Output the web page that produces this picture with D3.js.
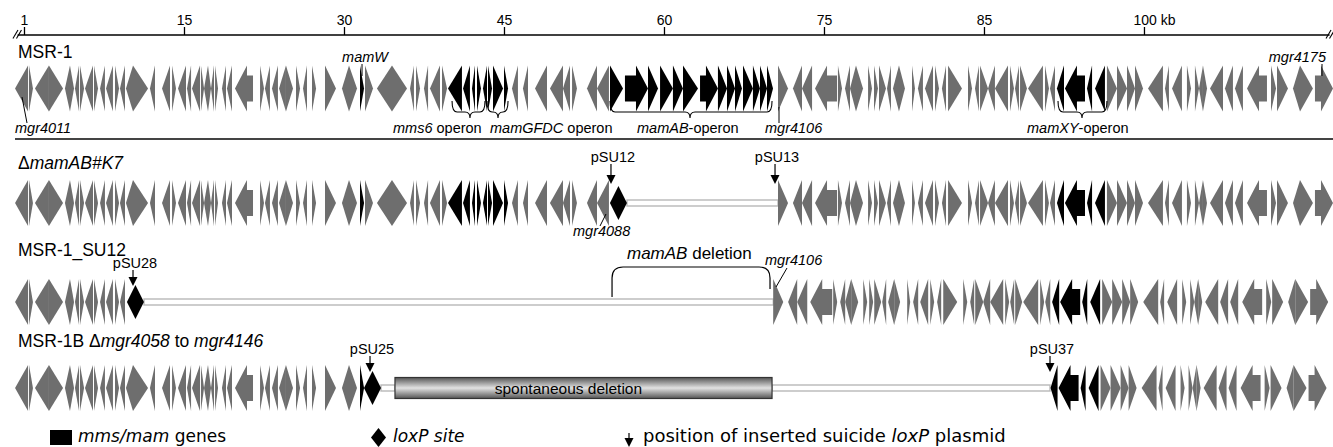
<!DOCTYPE html>
<html><head><meta charset="utf-8">
<script src="https://cdn.jsdelivr.net/npm/d3@7"></script>
<style>body{margin:0;background:#fff}svg{display:block}</style>
</head><body>
<svg id="c" width="1333" height="447"></svg>
<script>
// ---------------- DATA (kb) ----------------
const tickValues = [0, 15, 30, 45, 60, 75, 90, 105];
const tickLabels = ["1", "15", "30", "45", "60", "75", "85", "100 kb"];
// [start kb, end kb, strand, isMamGene]
const genes = [
 [-0.84,0.38,-1,0],[0.47,0.84,1,0],[1.03,2.34,-1,0],[2.34,3.66,1,0],
 [3.84,4.31,-1,0],[4.31,4.69,1,0],[4.78,5.16,-1,0],[5.25,5.63,1,0],
 [5.72,6.47,-1,0],[6.56,6.94,1,0],[7.13,7.59,-1,0],[7.69,8.34,-1,0],
 [8.53,8.91,1,0],[9.00,9.47,-1,0],[9.56,10.22,-1,0],[10.22,11.63,1,0],
 [11.81,12.28,-1,0],
 [12.94,13.69,-1,0],[13.88,14.25,1,0],[14.44,15.19,-1,0],[15.28,15.66,-1,0],
 [15.75,16.50,-1,0],[16.59,16.88,1,0],[16.88,17.25,-1,0],[17.25,17.53,1,0],
 [17.53,17.81,-1,0],[17.91,18.19,1,0],[18.56,18.94,-1,0],[19.03,19.50,-1,0],
 [19.78,21.47,-1,0],
 [22.13,22.50,1,0],[22.59,23.06,-1,0],[23.25,23.81,-1,0],[23.91,24.56,-1,0],
 [24.56,25.22,1,0],[25.50,25.88,1,0],[26.16,26.53,-1,0],[27.00,27.38,1,0],
 [28.22,29.25,1,0],[29.81,30.47,-1,0],[30.47,31.22,1,0],[31.50,31.88,1,1],
 [31.97,32.72,1,0],[33.09,34.50,-1,0],[34.50,35.91,1,0],[36.19,36.56,-1,0],
 [36.75,37.13,1,0],[37.50,37.88,-1,0],[38.06,39.00,-1,0],[39.19,39.66,1,0],
 [39.75,41.06,-1,1],[41.16,41.81,-1,1],[42.00,42.28,-1,1],[42.47,42.84,1,1],
 [43.03,43.41,-1,1],[43.50,43.88,1,1],[43.97,44.91,1,1],[45.00,45.38,1,1],
 [45.75,46.31,-1,0],[46.78,47.25,-1,0],[47.91,49.03,-1,0],[49.31,50.53,-1,0],
 [50.53,51.19,-1,0],[51.38,51.84,1,0],[52.78,53.72,-1,0],[53.72,54.84,-1,0],
 [54.94,56.16,1,1],[56.34,58.50,1,1],[58.50,59.44,1,1],[59.63,60.84,1,1],
 [60.84,61.78,1,1],[61.78,63.19,1,1],[63.38,65.06,1,1],[65.06,65.91,1,1],
 [65.91,66.66,1,1],[66.66,67.31,1,1],[67.41,68.34,1,1],[68.34,69.00,1,1],
 [69.00,69.66,1,1],[69.66,70.22,1,1],
 [70.69,71.63,1,0],[72.09,72.94,-1,0],[72.94,73.88,-1,0],[74.16,76.22,-1,0],
 [76.31,76.69,1,0],[76.97,77.44,-1,0],[77.44,78.00,-1,0],[78.00,78.66,1,0],
 [79.13,79.50,1,0],[79.69,80.06,1,0],[80.16,80.81,1,0],
 [80.91,81.28,-1,0],[81.47,82.03,-1,0],[82.03,82.59,1,0],[83.25,83.53,1,0],
 [83.81,84.28,-1,0],[84.47,85.22,-1,0],[85.41,85.78,1,0],[86.06,86.44,-1,0],
 [86.63,87.94,1,0],
 [88.50,88.88,1,0],[89.16,89.53,-1,0],[89.63,90.38,1,0],[90.38,91.03,-1,0],
 [91.03,92.25,-1,0],[92.44,92.81,1,0],[92.91,93.28,-1,0],[93.38,94.03,1,0],
 [94.13,95.53,-1,0],[95.72,96.09,1,0],[96.19,96.66,-1,0],
 [96.84,97.50,-1,1],[97.59,99.47,-1,1],[99.66,100.13,-1,1],[100.41,101.34,-1,1],
 [101.53,102.47,1,0],[102.47,103.41,1,0],[103.41,104.16,1,0],[104.16,104.91,1,0],
 [105.38,106.78,-1,0],[106.97,107.34,-1,0],[107.63,108.56,-1,0],[109.03,109.41,1,0],
 [109.78,110.16,1,0],[110.16,110.53,-1,0],[110.53,110.91,1,0],[111.19,112.41,-1,0],
 [112.59,113.34,-1,0],[113.53,114.28,-1,0],[114.66,116.53,-1,0],[116.91,117.38,1,0],
 [117.47,118.50,1,0],[118.97,119.63,-1,0],[119.63,120.84,1,0],[121.03,122.72,1,0]
];
// strains (rows): label parts [text, italic]
const rowLabels = [
 [["MSR-1",0]],
 [["\u0394",0],["mamAB#K7",1]],
 [["MSR-1_SU12",0]],
 [["MSR-1B \u0394",0],["mgr4058",1],[" to ",0],["mgr4146",1]]
];
// retained gene segments per strain: [from kb, to kb, shift kb]
const rowSegments = [
 [[-2,123,0]],
 [[-2,54.9,0],[70.6,123,0]],
 [[-2,9.5,0],[70.6,123,-0.45]],
 [[-2,31.9,0],[96.8,123,-0.6]]
];
const loxPSites = [[1,55.73],[2,10.45],[3,32.67]];            // [row, kb]
const plasmids = [["pSU12",1,55.03],["pSU13",1,70.41],["pSU28",2,10.22],["pSU25",3,32.44],["pSU37",3,96.19]];
const deletedSpans = [[1,56.53,70.69],[2,11.25,70.25],[3,33.47,34.78],[3,70.13,96.19]];
const spontaneousDeletion = [3,34.78,70.13];
// operon braces: [italic name, suffix, from kb, to kb, tip kb]
const operons = [["mms6"," operon",40.13,43.22,41.81],["mamGFDC"," operon",43.41,45.38,44.44],
                 ["mamAB","-operon",54.94,70.13,62.44],["mamXY","-operon",96.94,101.53,99.19]];

// ---------------- LAYOUT ----------------
const FONT = "'Liberation Sans', Arial, Helvetica, sans-serif";
const LFONT = "'DejaVu Sans', Verdana, sans-serif";
const GRAY = "#6e6e6e";
const rowY = [88.5, 203, 302, 388];
const labelY = [58, 169, 256, 347];
const plasmidTextY = {1:162, 2:268, 3:354};
const plasmidTip = {1:184, 2:286, 3:372};
const operonTextX = [393, 490, 637, 1027];

const svg = d3.select('#c');
const x = d3.scaleLinear().domain([0, 122.44]).range([24, 1330]);

const defs = svg.append('defs');
const gr = defs.append('linearGradient').attr('id','cyl').attr('x1',0).attr('x2',0).attr('y1',0).attr('y2',1);
gr.append('stop').attr('offset','0%').attr('stop-color','#555');
gr.append('stop').attr('offset','50%').attr('stop-color','#e2e2e2');
gr.append('stop').attr('offset','100%').attr('stop-color','#555');

// axis
const axisY = 35;
const gA = svg.append('g').attr('transform',`translate(0,${axisY})`)
  .call(d3.axisTop(x).tickValues(tickValues).tickFormat((d,i)=>tickLabels[i]).tickSize(8).tickPadding(2).tickSizeOuter(0));
gA.select('.domain').remove();
gA.attr('font-family',FONT).attr('font-size',14);
gA.selectAll('text').attr('fill','#000');
gA.selectAll('.tick line').attr('stroke','#000').attr('stroke-width',1.3);
gA.selectAll('.tick').filter((d,i)=>i===tickValues.length-1).select('text').attr('text-anchor','start').attr('dx',-11);
svg.append('line').attr('x1',x(-0.6)).attr('x2',x(122.4)).attr('y1',axisY).attr('y2',axisY).attr('stroke','#000').attr('stroke-width',1.5);
[x(-0.8), x(122.3)].forEach(bx=>{
  [0,3.5].forEach(o=>svg.append('line').attr('x1',bx-2.5+o).attr('y1',axisY+3.5).attr('x2',bx+2.5+o).attr('y2',axisY-5).attr('stroke','#000').attr('stroke-width',1.1));
});

function genePath(x0,x1,dir,cy){
  const w=x1-x0, Hh=23, Bh=13; let pts;
  if (w>16.5){ const hl=12;
    pts = dir>0 ? [[x0,cy-Bh],[x1-hl,cy-Bh],[x1-hl,cy-Hh],[x1,cy],[x1-hl,cy+Hh],[x1-hl,cy+Bh],[x0,cy+Bh]]
                : [[x1,cy-Bh],[x0+hl,cy-Bh],[x0+hl,cy-Hh],[x0,cy],[x0+hl,cy+Hh],[x0+hl,cy+Bh],[x1,cy+Bh]];
  } else {
    pts = dir>0 ? [[x0,cy-Hh],[x1,cy],[x0,cy+Hh]] : [[x1,cy-Hh],[x0,cy],[x1,cy+Hh]];
  }
  return 'M'+pts.map(p=>p.join(',')).join('L')+'Z';
}
function addText(g, parts, tx, ty, size, family, anchor){
  const t = g.append('text').attr('x',tx).attr('y',ty).attr('font-size',size).attr('font-family',family||FONT).attr('fill','#000');
  if (anchor) t.attr('text-anchor',anchor);
  parts.forEach(([s,it])=>t.append('tspan').text(s).attr('font-style',it?'italic':'normal'));
  return t;
}

deletedSpans.forEach(([r,a,b])=>{
  svg.append('rect').attr('x',x(a)).attr('y',rowY[r]-3).attr('width',x(b)-x(a)).attr('height',6)
    .attr('fill','#fff').attr('stroke','#b8b8b8').attr('stroke-width',1.4);
});
{
  const [r,a,b] = spontaneousDeletion;
  svg.append('rect').attr('x',x(a)).attr('y',rowY[r]-10.5).attr('width',x(b)-x(a)).attr('height',21)
    .attr('fill','url(#cyl)').attr('stroke','#333').attr('stroke-width',1.2);
  addText(svg,[["spontaneous deletion",0]], x(a)+(x(b)-x(a))*0.46, rowY[r]+5.5, 15.5, FONT,'middle');
}

rowSegments.forEach((segs,r)=>{
  const g = svg.append('g');
  segs.forEach(([from,to,shift])=>{
    const sel = genes.filter(d=>d[0]>=from && d[1]<=to);
    g.selectAll(null).data(sel).enter().append('path')
      .attr('d',d=>genePath(x(d[0]+shift),x(d[1]+shift),d[2],rowY[r]))
      .attr('fill',d=>d[3]?'#000':GRAY);
  });
  addText(svg, rowLabels[r], 18, labelY[r], 17.5, FONT);
});

function diamond(cx,cy,hw,hh){return `M${cx},${cy-hh}L${cx+hw},${cy}L${cx},${cy+hh}L${cx-hw},${cy}Z`;}
loxPSites.forEach(([r,k])=>svg.append('path').attr('d',diamond(x(k),rowY[r],8.5,17)).attr('fill','#000'));

function downArrow(px,y0,y1){
  svg.append('line').attr('x1',px).attr('x2',px).attr('y1',y0).attr('y2',y1-7).attr('stroke','#000').attr('stroke-width',1.2);
  svg.append('path').attr('d',`M${px-4.5},${y1-9}L${px+4.5},${y1-9}L${px},${y1}Z`).attr('fill','#000');
}
plasmids.forEach(([name,r,k])=>{
  addText(svg,[[name,0]],x(k)+2,plasmidTextY[r],14.5,FONT,'middle');
  downArrow(x(k),plasmidTextY[r]+2,plasmidTip[r]);
});

function brace(x0,x1,xm,yt){
  const ym=yt+11, yb=yt+17, r=5;
  return `M${x0},${yt}Q${x0},${ym} ${x0+r},${ym}L${xm-r},${ym}Q${xm},${ym} ${xm},${yb}Q${xm},${ym} ${xm+r},${ym}L${x1-r},${ym}Q${x1},${ym} ${x1},${yt}`;
}
operons.forEach(([nm,suf,a,b,t],i)=>{
  svg.append('path').attr('d',brace(x(a),x(b),x(t),101)).attr('fill','none').attr('stroke','#000').attr('stroke-width',1.1);
  addText(svg,[[nm,1],[suf,0]],operonTextX[i],133,14.5,FONT);
});

function leader(x1,y1,x2,y2){svg.append('line').attr('x1',x1).attr('y1',y1).attr('x2',x2).attr('y2',y2).attr('stroke','#000').attr('stroke-width',1);}
addText(svg,[["mamW",1]],x(31.69)+3,62,14.5,FONT,'middle'); leader(x(31.69),64,x(31.69),76);
addText(svg,[["mgr4175",1]],1326,62,14.5,FONT,'end'); leader(1322,64,1322,76);
addText(svg,[["mgr4011",1]],15,133,14.5,FONT); leader(22,97,27,123);
addText(svg,[["mgr4106",1]],765,133,14.5,FONT); leader(x(70.69)+1,107,x(70.69)+1,123);
addText(svg,[["mgr4088",1]],573,236,14.5,FONT); leader(606,214,600,226);
addText(svg,[["mgr4106",1]],765,265,14.5,FONT); leader(787,268,776,287);
svg.append('line').attr('x1',15).attr('x2',1333).attr('y1',139).attr('y2',139).attr('stroke','#444').attr('stroke-width',2);

{
  const a=x(55.13), b=x(69.94), yt=267, yb=297, r=11;
  svg.append('path').attr('d',`M${a},${yb}L${a},${yt+r}Q${a},${yt} ${a+r},${yt}L${b-r},${yt}Q${b},${yt} ${b},${yt+r}L${b},${yb-8}`)
    .attr('fill','none').attr('stroke','#000').attr('stroke-width',1.2);
  addText(svg,[["mamAB",1],[" deletion",0]],627,259,17,FONT);
}

// legend
svg.append('rect').attr('x',50).attr('y',430).attr('width',22).attr('height',15).attr('fill','#000');
addText(svg,[["mms/mam",1],[" genes",0]],78,442,17,LFONT);
svg.append('path').attr('d',diamond(378.5,437.5,7.5,9.5)).attr('fill','#000');
addText(svg,[["loxP site",1]],393,442,17,LFONT);
downArrow(629,433,447);
addText(svg,[["position of inserted suicide ",0],["loxP",1],[" plasmid",0]],643,442,18,LFONT);
</script>
</body></html>
